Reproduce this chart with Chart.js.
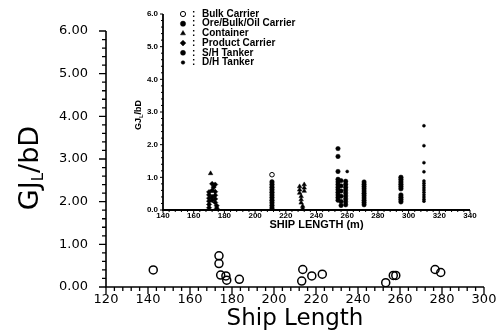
<!DOCTYPE html>
<html>
<head>
<meta charset="utf-8">
<script src="https://cdn.jsdelivr.net/npm/chart.js@4.4.1/dist/chart.umd.min.js"></script>
<style>
  body { margin: 0; background: #fff; }
  #wrap { position: relative; width: 502px; height: 333px; }
  #wrap canvas { position: absolute; left: 0; top: 0; }
</style>
</head>
<body>
<div id="wrap">
  <canvas id="mainChart" width="502" height="333"></canvas>
  <canvas id="insetChart" width="502" height="333"></canvas>
</div>
<script>
// main plot: open circles, GJL/bD against ship length
const mainLength = [142.5, 173.8, 173.8, 174.6, 177.1, 177.5, 183.5, 213.2, 213.7, 218, 223, 253.2, 256.8, 258, 276.7, 279.4];
const mainGJ     = [0.40, 0.73, 0.55, 0.28, 0.26, 0.16, 0.18, 0.14, 0.41, 0.26, 0.30, 0.10, 0.27, 0.27, 0.41, 0.34];
const mainXTicks = [120, 140, 160, 180, 200, 220, 240, 260, 280, 300];
const mainYTicks = [0, 1, 2, 3, 4, 5, 6];

// inset plot, one pair of arrays per ship type
const insetXTicks = [140, 160, 180, 200, 220, 240, 260, 280, 300, 320, 340];
const insetYTicks = [0, 1, 2, 3, 4, 5, 6];
const shipTypes = ['Bulk Carrier', 'Ore/Bulk/Oil Carrier', 'Container', 'Product Carrier', 'S/H Tanker', 'D/H Tanker'];

const bulkLen = [211];
const bulkGJ  = [1.08];
const oboLen = [211, 211, 211, 211, 211, 211, 211, 211, 211, 211, 211,
                295, 295, 295, 295, 295, 295, 295, 295, 295, 295];
const oboGJ  = [0.86, 0.78, 0.70, 0.62, 0.54, 0.46, 0.38, 0.30, 0.22, 0.14, 0.06,
                1.00, 0.93, 0.86, 0.79, 0.72, 0.65, 0.46, 0.39, 0.32, 0.25];
const containerLen = [171, 229, 229, 229, 230, 230, 230, 231, 231, 232, 232, 232];
const containerGJ  = [1.12, 0.72, 0.62, 0.52, 0.42, 0.32, 0.22, 0.12, 0.05, 0.78, 0.68, 0.58];
const productLen = [170, 170, 170, 170, 170, 170, 172, 172, 172, 172, 173, 174, 174, 174, 174, 174, 175, 175];
const productGJ  = [0.55, 0.46, 0.36, 0.27, 0.17, 0.07, 0.80, 0.60, 0.40, 0.30, 0.70, 0.78, 0.56, 0.45, 0.34, 0.23, 0.13, 0.05];
const shLen = [254, 254, 254, 254, 254, 254, 254, 254, 254, 254, 254, 254,
               256, 256, 256, 256, 256, 256, 259, 259, 259, 259, 259, 259, 259, 259, 259,
               271, 271, 271, 271, 271, 271, 271, 271, 271, 271, 271];
const shGJ  = [1.88, 1.64, 1.18, 0.94, 0.86, 0.78, 0.70, 0.62, 0.54, 0.46, 0.38, 0.30,
               0.90, 0.74, 0.58, 0.42, 0.26, 0.14, 0.88, 0.79, 0.70, 0.61, 0.52, 0.43, 0.34, 0.25, 0.16,
               0.86, 0.79, 0.72, 0.65, 0.58, 0.51, 0.44, 0.37, 0.30, 0.23, 0.16];
const dhLen = [260, 310, 310, 310, 310, 310, 310, 310, 310, 310, 310, 310, 310, 310, 310];
const dhGJ  = [1.18, 2.58, 1.97, 1.45, 1.17, 0.89, 0.82, 0.75, 0.68, 0.61, 0.54, 0.47, 0.40, 0.33, 0.27];

const pairs = (xs, ys) => xs.map((x, i) => ({ x, y: ys[i] }));
const useTicks = list => scale => { scale.ticks = list.map(value => ({ value })); };

// axis lines plus major/minor tick marks
const axisTicks = {
  id: 'axisTicks',
  afterDraw(chart, args, o) {
    const { ctx, chartArea: a, scales: { x, y } } = chart;
    ctx.save();
    ctx.strokeStyle = '#000';
    ctx.lineWidth = o.lineWidth;
    ctx.beginPath();
    ctx.moveTo(a.left, a.top);
    ctx.lineTo(a.left, a.bottom);
    ctx.lineTo(a.right, a.bottom);
    ctx.stroke();
    ctx.lineWidth = o.tickWidth;
    ctx.beginPath();
    let n = Math.round((x.max - x.min) / o.xMinor), every = Math.round(o.xMajor / o.xMinor);
    for (let i = 0; i <= n; i++) {
      const px = x.getPixelForValue(x.min + i * o.xMinor);
      const len = i % every === 0 ? o.majorLen : o.minorLen;
      ctx.moveTo(px, a.bottom);
      ctx.lineTo(px, a.bottom + len);
    }
    n = Math.round((y.max - y.min) / o.yMinor);
    every = Math.round(o.yMajor / o.yMinor);
    for (let i = 0; i <= n; i++) {
      const py = y.getPixelForValue(y.min + i * o.yMinor);
      const len = i % every === 0 ? o.majorLen : o.minorLen;
      ctx.moveTo(a.left, py);
      ctx.lineTo(a.left - len, py);
    }
    ctx.stroke();
    ctx.restore();
  }
};

// rotated y title with a subscript part
const sideTitle = {
  id: 'sideTitle',
  afterDraw(chart, args, o) {
    const { ctx, chartArea: a } = chart;
    ctx.save();
    ctx.translate(o.x, (a.top + a.bottom) / 2 + o.shift);
    ctx.rotate(-Math.PI / 2);
    ctx.fillStyle = '#000';
    ctx.textBaseline = 'alphabetic';
    let total = 0;
    const widths = o.parts.map(p => {
      ctx.font = `${o.weight} ${p.size}px ${o.family}`;
      const w = ctx.measureText(p.text).width;
      total += w;
      return w;
    });
    let cx = -total / 2;
    const base = o.parts[0].size * 0.36;
    o.parts.forEach((p, i) => {
      ctx.font = `${o.weight} ${p.size}px ${o.family}`;
      ctx.fillText(p.text, cx, base + (p.drop || 0));
      cx += widths[i];
    });
    ctx.restore();
  }
};

// legend column drawn inside the inset
const typeLegend = {
  id: 'typeLegend',
  afterDraw(chart, args, o) {
    const { ctx } = chart;
    ctx.save();
    ctx.font = o.font;
    ctx.textBaseline = 'middle';
    chart.data.datasets.forEach((ds, i) => {
      const y = o.top + i * o.row;
      ctx.fillStyle = ds.backgroundColor;
      ctx.strokeStyle = '#000';
      ctx.lineWidth = ds.pointBorderWidth;
      Chart.helpers.drawPoint(ctx, { pointStyle: ds.pointStyle, radius: ds.pointRadius + 0.3, rotation: 0, borderWidth: ds.pointBorderWidth }, o.left, y);
      ctx.fillStyle = '#000';
      ctx.fillText(':', o.left + 9, y);
      ctx.fillText(ds.label, o.left + 19, y);
    });
    ctx.restore();
  }
};

const black = '#000';

new Chart(document.getElementById('mainChart'), {
  type: 'scatter',
  data: {
    datasets: [{
      label: 'Bulk Carrier',
      data: pairs(mainLength, mainGJ),
      pointStyle: 'circle',
      pointRadius: 4,
      pointBorderWidth: 1.5,
      borderColor: black,
      backgroundColor: 'rgba(0,0,0,0)'
    }]
  },
  options: {
    responsive: false,
    animation: false,
    devicePixelRatio: 1,
    layout: { padding: { top: 31, right: 18, left: 0, bottom: 0 } },
    plugins: {
      legend: { display: false },
      tooltip: { enabled: false },
      axisTicks: { lineWidth: 1.6, tickWidth: 1.3, xMinor: 4, xMajor: 20, yMinor: 0.2, yMajor: 1, majorLen: 7, minorLen: 4 },
      sideTitle: {
        x: 28, shift: 9, family: 'DejaVu Sans', weight: 'normal',
        parts: [{ text: 'GJ', size: 27 }, { text: 'L', size: 15, drop: 5 }, { text: '/bD', size: 27 }]
      }
    },
    scales: {
      x: {
        type: 'linear', min: 120, max: 300,
        afterBuildTicks: useTicks(mainXTicks),
        afterFit: s => { s.height = 46; },
        grid: { display: false, drawTicks: false },
        border: { display: false },
        ticks: { padding: 5, color: black, maxRotation: 0, font: { family: 'DejaVu Sans', size: 13 } },
        title: { display: true, text: 'Ship Length', color: black, padding: 0, font: { family: 'DejaVu Sans', size: 23 } }
      },
      y: {
        type: 'linear', min: 0, max: 6,
        afterBuildTicks: useTicks(mainYTicks),
        afterFit: s => { s.width = 106; },
        grid: { display: false, drawTicks: false },
        border: { display: false },
        ticks: { padding: 18, color: black, callback: v => v.toFixed(2), font: { family: 'DejaVu Sans', size: 13 } }
      }
    }
  },
  plugins: [axisTicks, sideTitle]
});

const insetStyles = [
  { pointStyle: 'circle', pointRadius: 2.3, pointBorderWidth: 1, backgroundColor: '#fff' },
  { pointStyle: 'circle', pointRadius: 2.3, pointBorderWidth: 0.5, backgroundColor: black },
  { pointStyle: 'triangle', pointRadius: 2.6, pointBorderWidth: 0.5, backgroundColor: black },
  { pointStyle: 'rectRot', pointRadius: 2.6, pointBorderWidth: 0.5, backgroundColor: black },
  { pointStyle: 'circle', pointRadius: 2.2, pointBorderWidth: 0.5, backgroundColor: black },
  { pointStyle: 'circle', pointRadius: 1.5, pointBorderWidth: 0.5, backgroundColor: black }
];
const insetData = [
  pairs(bulkLen, bulkGJ), pairs(oboLen, oboGJ), pairs(containerLen, containerGJ),
  pairs(productLen, productGJ), pairs(shLen, shGJ), pairs(dhLen, dhGJ)
];

new Chart(document.getElementById('insetChart'), {
  type: 'scatter',
  data: {
    datasets: shipTypes.map((label, i) => Object.assign({
      label, data: insetData[i], borderColor: black
    }, insetStyles[i]))
  },
  options: {
    responsive: false,
    animation: false,
    devicePixelRatio: 1,
    layout: { padding: { top: 14, right: 32, left: 0, bottom: 101 } },
    plugins: {
      legend: { display: false },
      tooltip: { enabled: false },
      axisTicks: { lineWidth: 1.8, tickWidth: 1, xMinor: 4, xMajor: 20, yMinor: 0.2, yMajor: 1, majorLen: 3, minorLen: 2 },
      sideTitle: {
        x: 138, shift: 3, family: 'Liberation Sans', weight: 'bold',
        parts: [{ text: 'GJ', size: 9 }, { text: 'L', size: 6, drop: 2 }, { text: '/bD', size: 9 }]
      },
      typeLegend: { left: 183, top: 14, row: 9.7, font: 'bold 10px "Liberation Sans"' }
    },
    scales: {
      x: {
        type: 'linear', min: 140, max: 340,
        afterBuildTicks: useTicks(insetXTicks),
        afterFit: s => { s.height = 22; },
        grid: { display: false, drawTicks: false },
        border: { display: false },
        ticks: { padding: 1, color: black, maxRotation: 0, font: { family: 'Liberation Sans', size: 8, weight: 'bold' } },
        title: { display: true, text: 'SHIP LENGTH (m)', color: black, padding: 0, font: { family: 'Liberation Sans', size: 11, weight: 'bold' } }
      },
      y: {
        type: 'linear', min: 0, max: 6,
        afterBuildTicks: useTicks(insetYTicks),
        afterFit: s => { s.width = 163; },
        grid: { display: false, drawTicks: false },
        border: { display: false },
        ticks: { padding: 5, color: black, callback: v => v.toFixed(1), font: { family: 'Liberation Sans', size: 8, weight: 'bold' } }
      }
    }
  },
  plugins: [axisTicks, sideTitle, typeLegend]
});
</script>
</body>
</html>
